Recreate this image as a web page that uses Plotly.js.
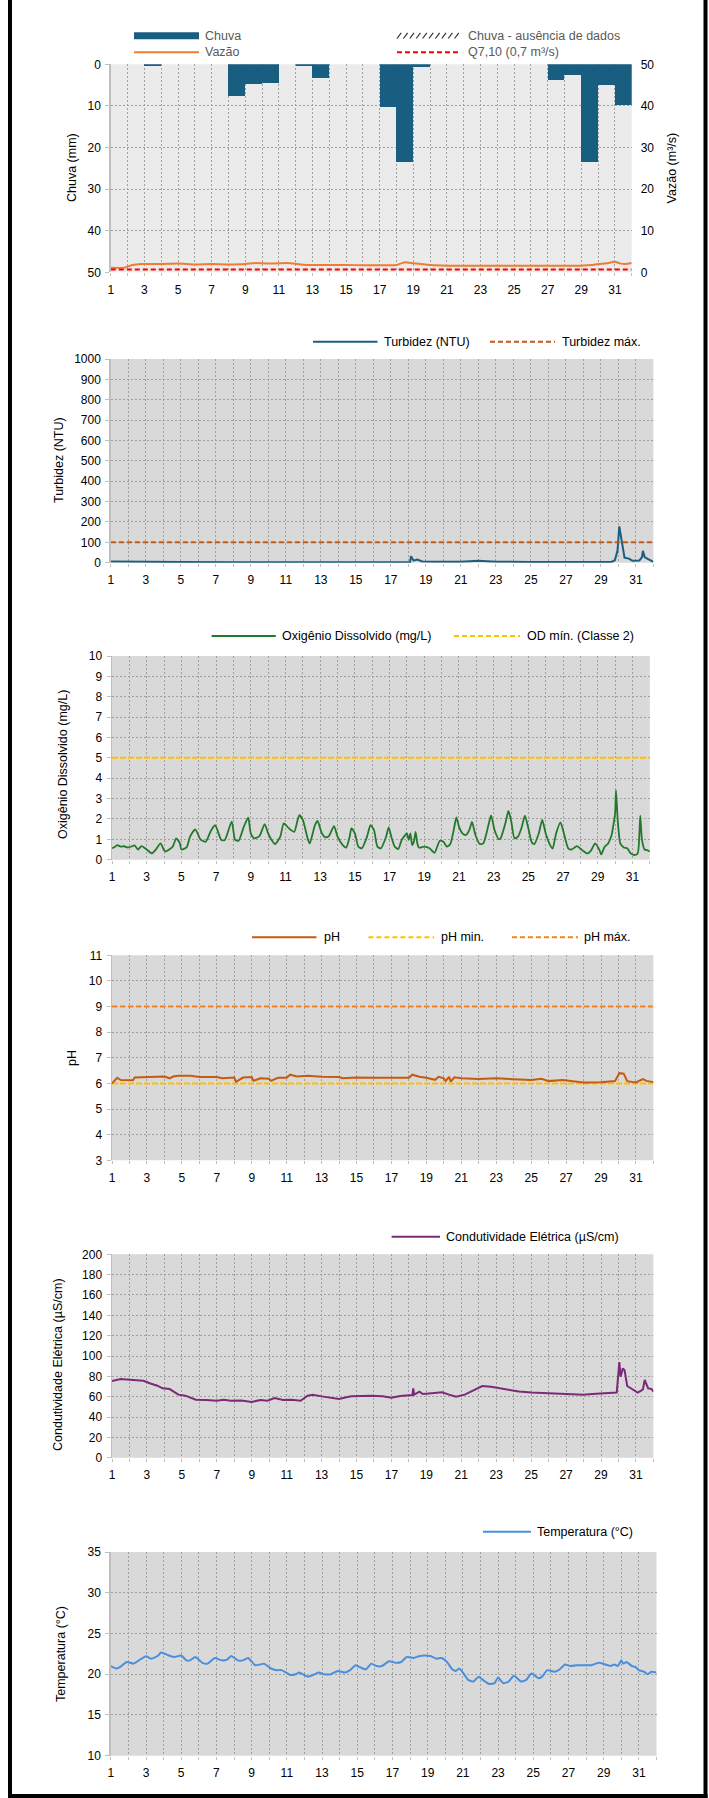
<!DOCTYPE html>
<html>
<head>
<meta charset="utf-8">
<script src="https://cdn.plot.ly/plotly-3.0.1.min.js"></script>
<style>
  html, body { margin: 0; padding: 0; background: #ffffff; }
  #chart { width: 709px; height: 1798px; }
</style>
</head>
<body>
<div id="chart"></div>
<script>
// ---------------- DATA ----------------
const diaInicio = 1;
const diaFim = 32;
const diasTicks = [1,2,3,4,5,6,7,8,9,10,11,12,13,14,15,16,17,18,19,20,21,22,23,24,25,26,27,28,29,30,31,32];
const diasRotulos = ["1","","3","","5","","7","","9","","11","","13","","15","","17","","19","","21","","23","","25","","27","","29","","31",""];

// Chuva (mm) - daily bars, each spanning [dia, dia+1]
const chuvaDia = [3, 8, 9, 10, 12, 13, 17, 18, 19, 27, 28, 29, 30, 31];
const chuvaMm  = [0.3, 7.7, 4.7, 4.5, 0.3, 3.3, 10.2, 23.5, 0.6, 3.8, 2.6, 23.4, 5.0, 9.8];

// Vazão (m³/s)
const vazaoDia = [1, 1.8, 2.3, 2.8, 4, 5, 6, 7, 8, 9, 9.6, 10.5, 11.5, 12.3, 13, 14, 15, 16, 17, 18, 18.5, 19, 20, 21, 22, 23, 24, 25, 26, 27, 28, 29, 29.6, 30, 30.5, 31, 31.3, 31.6, 32];
const vazao    = [1.1, 1.1, 1.75, 2.0, 2.0, 2.1, 1.9, 2.0, 1.9, 2.0, 2.25, 2.1, 2.25, 1.9, 1.75, 1.75, 1.75, 1.7, 1.7, 1.75, 2.4, 2.15, 1.75, 1.6, 1.6, 1.6, 1.55, 1.55, 1.55, 1.6, 1.6, 1.6, 1.75, 2.0, 2.15, 2.55, 2.15, 2.0, 2.25];
const q710 = 0.7;

// Turbidez (NTU)
const turbDia = [1, 3, 5, 8, 13, 15, 17, 18.1, 18.15, 18.3, 18.5, 18.8, 19.5, 21, 22, 22.5, 23, 25, 29, 29.6, 29.8, 29.95, 30.05, 30.2, 30.35, 30.6, 30.8, 31.2, 31.35, 31.4, 31.5, 31.7, 32];
const turbidez = [6, 6, 3, 2, 2, 3, 3, 3, 32, 10, 15, 6, 5, 5, 10, 8, 5, 3, 3, 4, 12, 60, 178, 110, 25, 20, 10, 11, 28, 58, 28, 18, 4];
const turbidezMax = 100;

// Oxigênio Dissolvido (mg/L)
const odDia = [1,1.15,1.3,1.5,1.7,1.9,2.1,2.3,2.5,2.7,3,3.3,3.5,3.8,4,4.1,4.5,4.7,4.9,5,5.3,5.5,5.8,6.1,6.4,6.7,6.95,7.3,7.5,7.9,8.1,8.3,8.6,8.85,9.0,9.2,9.5,9.8,10.0,10.2,10.4,10.7,10.9,11.2,11.5,11.7,11.8,12.0,12.3,12.4,12.7,12.85,13.1,13.3,13.5,13.8,14.0,14.3,14.5,14.7,14.8,15.0,15.2,15.4,15.7,15.9,16.1,16.3,16.5,16.8,16.95,17.1,17.3,17.5,17.7,17.9,18.0,18.1,18.2,18.3,18.4,18.5,18.6,18.7,19.0,19.3,19.5,19.6,19.9,20.1,20.3,20.5,20.7,20.85,21.0,21.2,21.4,21.6,21.75,21.95,22.2,22.4,22.7,22.85,23.05,23.3,23.4,23.7,23.85,24.0,24.2,24.4,24.6,24.8,25.0,25.2,25.35,25.6,25.8,26.0,26.3,26.4,26.6,26.85,27.05,27.3,27.5,27.8,28.1,28.4,28.6,28.85,29.1,29.2,29.4,29.6,29.8,29.9,30.0,30.05,30.15,30.3,30.5,30.7,30.9,31.1,31.3,31.4,31.45,31.55,31.7,31.85,32];
const od    = [0.56,0.62,0.72,0.64,0.66,0.6,0.64,0.7,0.5,0.67,0.5,0.31,0.47,0.8,0.47,0.4,0.64,1.05,0.83,0.5,0.6,1.13,1.49,1.0,0.88,1.42,1.69,0.97,0.97,1.87,0.97,0.93,1.62,2.06,1.29,1.05,1.16,1.75,1.29,0.97,0.77,1.13,1.78,1.54,1.37,1.95,2.19,1.95,0.97,0.8,1.7,1.9,1.29,1.1,1.16,1.65,1.13,0.72,0.59,1.13,1.54,1.29,0.64,0.56,1.13,1.7,1.46,0.64,0.56,1.13,1.59,1.13,0.64,0.52,0.97,1.21,1.29,0.97,1.29,0.72,0.88,1.37,0.8,0.59,0.64,0.56,0.39,0.34,0.93,0.88,0.64,0.77,1.46,2.08,1.62,1.29,1.21,1.46,1.85,1.21,0.77,0.8,1.7,2.18,1.46,1.0,1.05,1.87,2.39,1.95,1.05,1.13,1.54,2.16,1.54,0.85,0.77,1.29,1.95,1.29,0.64,0.54,1.29,1.83,1.29,0.56,0.5,0.67,0.47,0.31,0.43,0.8,0.47,0.26,0.64,0.8,1.21,1.7,2.27,3.42,1.95,0.8,0.6,0.56,0.31,0.23,0.31,1.29,2.16,0.97,0.5,0.47,0.4];
const odMin = 5;

// pH
const phDia = [1,1.3,1.5,2.2,2.3,3,4,4.3,4.5,4.8,5.5,6,7,7.3,8,8.1,8.5,9,9.1,9.5,10,10.1,10.5,11,11.2,11.6,12.2,13,14,14.2,15,16,17,18,18.2,18.6,19,19.5,19.7,20,20.1,20.3,20.4,20.6,21,22,23,24,25,25.6,26,26.8,27.5,28,29,29.8,30.05,30.3,30.5,31,31.4,31.6,32];
const ph    = [6.0,6.22,6.13,6.12,6.23,6.25,6.27,6.2,6.27,6.3,6.3,6.25,6.25,6.2,6.23,6.06,6.23,6.25,6.1,6.2,6.18,6.1,6.22,6.22,6.34,6.27,6.3,6.26,6.25,6.2,6.23,6.22,6.22,6.22,6.34,6.26,6.22,6.14,6.26,6.2,6.09,6.26,6.07,6.24,6.2,6.17,6.2,6.16,6.13,6.18,6.09,6.13,6.07,6.04,6.05,6.09,6.4,6.38,6.09,6.04,6.17,6.1,6.05];
const phMin = 6;
const phMax = 9;

// Condutividade Elétrica (µS/cm)
const ceDia = [1,1.5,2.2,2.8,3.2,3.6,3.9,4.3,4.6,4.8,5.2,5.5,5.8,6.4,7,7.4,7.8,8.4,9,9.5,9.9,10.3,10.8,11.3,11.8,12.2,12.5,13,13.5,14,14.3,14.7,15.3,15.8,16.5,17,17.5,18.2,18.25,18.3,18.6,18.8,19.3,19.9,20.3,20.7,21.2,21.7,22.2,22.7,23.2,23.8,24.3,25,26,27,28,28.5,29.5,29.9,30.05,30.12,30.25,30.35,30.5,30.8,31.1,31.3,31.4,31.5,31.7,31.9,32];
const ce    = [75.4,77.4,76.4,75.7,73,70.8,68.2,67.5,64.3,62,61,59,57,56.7,56,57,56,56.3,54.9,56.7,56,58.7,56.7,57,56,61,62,60.3,59,57.7,59,60.3,60.7,61,60.3,59,60.7,61.6,68.2,62,65,62.6,63.3,64.3,62,60,62,66.6,70.5,69.8,68.2,66.6,65,64,63.3,62.6,62,62.6,63.3,64,94,79.7,87.9,86,70.5,67.2,64,66,67.2,76.4,68.2,67.5,65];

// Temperatura (°C)
const tempDia = [1,1.3,1.6,1.9,2.3,2.6,3,3.3,3.7,3.85,4.3,4.6,5,5.3,5.5,5.8,6.2,6.5,6.9,7.3,7.6,7.85,8.2,8.5,8.8,9.2,9.5,9.7,10.1,10.4,10.7,11.2,11.5,11.7,12.2,12.5,12.8,13.1,13.5,13.9,14.3,14.6,14.9,15.3,15.5,15.8,16.1,16.4,16.8,17.2,17.5,17.8,18.2,18.5,18.8,19.2,19.5,19.8,20.1,20.4,20.6,20.8,21.1,21.3,21.6,21.9,22.2,22.5,22.8,23.0,23.3,23.6,23.9,24.3,24.6,24.9,25.3,25.5,25.8,26.2,26.5,26.8,27.1,27.5,27.9,28.3,28.7,29.1,29.4,29.6,29.8,30.0,30.1,30.3,30.6,30.8,31.0,31.3,31.5,31.7,32];
const temp    = [20.98,20.7,21.0,21.5,21.3,21.7,22.2,21.9,22.3,22.66,22.3,22.1,22.3,21.7,21.7,22.1,21.4,21.3,22.0,21.7,21.8,22.25,21.7,21.7,22.0,21.1,21.2,21.3,20.7,20.5,20.5,19.9,20.0,20.2,19.7,19.9,20.2,20.0,20.0,20.4,20.2,20.5,21.1,20.7,20.6,21.3,21.0,21.0,21.6,21.4,21.5,22.1,22.0,22.2,22.3,22.2,21.9,22.0,21.5,20.6,20.4,20.7,19.9,19.3,19.1,19.7,19.2,18.8,18.9,19.6,18.9,19.1,19.8,19.1,19.3,20.1,19.5,19.7,20.5,20.3,20.6,21.2,21.0,21.1,21.1,21.1,21.4,21.2,21.0,21.2,21.0,21.7,21.3,21.5,21.0,20.9,20.5,20.3,20.0,20.3,20.2];

// ---------------- LAYOUT HELPERS ----------------
const W = 709, H = 1798;
const fx = v => v / W;
const fy = v => 1 - v / H;
const FONT = "Liberation Sans, Arial, Helvetica, sans-serif";
const GRID = '#a0a0a0';
const AXC = '#bfbfbf';

// pixel boxes of the six plot areas [left, right, top, bottom]
const boxes = [
  [110.8, 631.7, 64.3, 272.3],
  [110.8, 653.4, 359, 562.7],
  [112, 649.8, 656, 859.7],
  [112, 653.4, 955.3, 1160.3],
  [112, 653.4, 1254.3, 1457.7],
  [110.8, 656.5, 1552, 1755.7]
];

function xAxis(i, anchor) {
  const b = boxes[i];
  return {
    domain: [fx(b[0]), fx(b[1])], anchor: anchor,
    range: [diaInicio, diaFim], tickmode: 'array', tickvals: diasTicks, ticktext: diasRotulos,
    showgrid: true, gridcolor: GRID, griddash: '2px,2px', gridwidth: 1,
    zeroline: false, showline: false, ticks: 'outside', ticklen: 3, tickcolor: AXC,
    tickfont: {size: 12, color: '#000', family: FONT}, ticklabelstandoff: 3, fixedrange: true
  };
}
function yAxis(i, anchor, range, dtick, extra) {
  const b = boxes[i];
  return Object.assign({
    domain: [fy(b[3]), fy(b[2])], anchor: anchor,
    range: range, tickmode: 'linear', tick0: Math.min(range[0], range[1]), dtick: dtick,
    showgrid: true, gridcolor: GRID, griddash: '2px,2px', gridwidth: 1,
    zeroline: false, showline: true, linecolor: AXC, linewidth: 1.5,
    ticks: 'outside', ticklen: 4, tickcolor: AXC,
    tickfont: {size: 12, color: '#000', family: FONT}, ticklabelstandoff: 2, fixedrange: true
  }, extra || {});
}

// ---------------- TRACES ----------------
const traces = [
  {type: 'bar', name: 'Chuva', x: chuvaDia, y: chuvaMm, offset: 0, width: 1,
   marker: {color: '#185e80', line: {width: 0}}, xaxis: 'x', yaxis: 'y', hoverinfo: 'x+y'},
  {type: 'scatter', mode: 'lines', name: 'Vazão', x: vazaoDia, y: vazao,
   line: {color: '#ed7d31', width: 2, shape: 'spline', smoothing: 0.5}, xaxis: 'x', yaxis: 'y2'},
  {type: 'scatter', mode: 'lines', name: 'Q7,10 (0,7 m³/s)', x: [diaInicio, diaFim], y: [q710, q710],
   line: {color: '#ff0000', width: 2, dash: '5px,3px'}, xaxis: 'x', yaxis: 'y2'},

  {type: 'scatter', mode: 'lines', name: 'Turbidez (NTU)', x: turbDia, y: turbidez,
   line: {color: '#1a5e80', width: 2}, xaxis: 'x2', yaxis: 'y3'},
  {type: 'scatter', mode: 'lines', name: 'Turbidez máx.', x: [diaInicio, diaFim], y: [turbidezMax, turbidezMax],
   line: {color: '#c55a11', width: 2, dash: '5px,3px'}, xaxis: 'x2', yaxis: 'y3'},

  {type: 'scatter', mode: 'lines', name: 'OD mín. (Classe 2)', x: [diaInicio, diaFim], y: [odMin, odMin],
   line: {color: '#ffc000', width: 2, dash: '5px,3px'}, xaxis: 'x3', yaxis: 'y4'},
  {type: 'scatter', mode: 'lines', name: 'Oxigênio Dissolvido (mg/L)', x: odDia, y: od,
   line: {color: '#23792b', width: 1.8, shape: 'spline', smoothing: 0.6}, xaxis: 'x3', yaxis: 'y4'},

  {type: 'scatter', mode: 'lines', name: 'pH min.', x: [diaInicio, diaFim], y: [phMin, phMin],
   line: {color: '#ffc000', width: 2, dash: '5px,3px'}, xaxis: 'x4', yaxis: 'y5'},
  {type: 'scatter', mode: 'lines', name: 'pH máx.', x: [diaInicio, diaFim], y: [phMax, phMax],
   line: {color: '#f5841f', width: 2, dash: '5px,3px'}, xaxis: 'x4', yaxis: 'y5'},
  {type: 'scatter', mode: 'lines', name: 'pH', x: phDia, y: ph,
   line: {color: '#c55a11', width: 2}, xaxis: 'x4', yaxis: 'y5'},

  {type: 'scatter', mode: 'lines', name: 'Condutividade Elétrica (µS/cm)', x: ceDia, y: ce,
   line: {color: '#7b2a78', width: 2}, xaxis: 'x5', yaxis: 'y6'},

  {type: 'scatter', mode: 'lines', name: 'Temperatura (°C)', x: tempDia, y: temp,
   line: {color: '#4a8fdc', width: 2, shape: 'spline', smoothing: 0.5}, xaxis: 'x6', yaxis: 'y7'}
];

// ---------------- SHAPES & ANNOTATIONS ----------------
const shapes = [];
const annotations = [];
const bgs = ['#ebebeb', '#d9d9d9', '#d9d9d9', '#d9d9d9', '#d9d9d9', '#d9d9d9'];
const xrefs = ['x', 'x2', 'x3', 'x4', 'x5', 'x6'];
const yrefs = ['y', 'y3', 'y4', 'y5', 'y6', 'y7'];
for (let i = 0; i < 6; i++) {
  shapes.push({type: 'rect', xref: xrefs[i] + ' domain', yref: yrefs[i] + ' domain', x0: 0, x1: 1, y0: 0, y1: 1,
               fillcolor: bgs[i], line: {width: 0}, layer: 'below'});
}
// page frame
shapes.push({type: 'line', xref: 'paper', yref: 'paper', x0: fx(10), x1: fx(10), y0: 0, y1: 1, line: {color: '#000', width: 4}});
shapes.push({type: 'line', xref: 'paper', yref: 'paper', x0: fx(705.5), x1: fx(705.5), y0: 0, y1: 1, line: {color: '#000', width: 4}});
shapes.push({type: 'line', xref: 'paper', yref: 'paper', x0: fx(8), x1: fx(707.5), y0: fy(1796), y1: fy(1796), line: {color: '#000', width: 4}});

function legLine(x0, x1, y, color, width, dash) {
  shapes.push({type: 'line', xref: 'paper', yref: 'paper', x0: fx(x0), x1: fx(x1), y0: fy(y), y1: fy(y),
               line: {color: color, width: width, dash: dash || 'solid'}});
}
function legText(x, y, txt, color) {
  annotations.push({xref: 'paper', yref: 'paper', x: fx(x), y: fy(y), xanchor: 'left', yanchor: 'middle',
                    text: txt, showarrow: false, font: {family: FONT, size: 12.5, color: color || '#000'}});
}
function yTitle(x, y, txt) {
  annotations.push({xref: 'paper', yref: 'paper', x: fx(x), y: fy(y), xanchor: 'center', yanchor: 'middle',
                    text: txt, textangle: -90, showarrow: false, font: {family: FONT, size: 12.5, color: '#000'}});
}

// Chart 1 legend
legLine(134, 199, 35.7, '#185e80', 7);
legText(203, 35.7, 'Chuva', '#595959');
legLine(134, 199, 52.3, '#ed7d31', 2);
legText(203, 52.3, 'Vazão', '#595959');
for (let k = 0; k < 10; k++) {
  const x0 = 397 + k * 6.4;
  shapes.push({type: 'line', xref: 'paper', yref: 'paper', x0: fx(x0), x1: fx(x0 + 4.2), y0: fy(38.5), y1: fy(32.8),
               line: {color: '#333333', width: 1.2}});
}
legText(465.5, 35.7, 'Chuva - ausência de dados', '#595959');
legLine(397, 461, 52.3, '#ff0000', 2, '5px,3px');
legText(465.5, 52.3, 'Q7,10 (0,7 m³/s)', '#595959');
yTitle(72, 168, 'Chuva (mm)');
yTitle(672.4, 168, 'Vazão (m³/s)');

// Chart 2 legend
legLine(313, 377.5, 341.7, '#1a5e80', 2);
legText(381.5, 341.7, 'Turbidez (NTU)');
legLine(490, 555, 341.7, '#c55a11', 2, '5px,3px');
legText(559.5, 341.7, 'Turbidez máx.');
yTitle(59, 460, 'Turbidez (NTU)');

// Chart 3 legend
legLine(211.6, 275.8, 636, '#23792b', 2);
legText(280, 636, 'Oxigênio Dissolvido (mg/L)');
legLine(454, 520, 636, '#ffc000', 2, '5px,3px');
legText(524.5, 636, 'OD mín. (Classe 2)');
yTitle(63, 765, 'Oxigênio Dissolvido (mg/L)');

// Chart 4 legend
legLine(252, 316.5, 937.3, '#c55a11', 2);
legText(321.5, 937.3, 'pH');
legLine(368.5, 434, 937.3, '#ffc000', 2, '5px,3px');
legText(438.5, 937.3, 'pH min.');
legLine(512, 578, 937.3, '#f5841f', 2, '5px,3px');
legText(581.5, 937.3, 'pH máx.');
yTitle(72, 1058, 'pH');

// Chart 5 legend
legLine(391.6, 440, 1236.7, '#7b2a78', 2);
legText(443.5, 1236.7, 'Condutividade Elétrica (µS/cm)');
yTitle(58, 1365, 'Condutividade Elétrica (µS/cm)');

// Chart 6 legend
legLine(483, 531, 1531.7, '#4a8fdc', 2);
legText(534.5, 1531.7, 'Temperatura (°C)');
yTitle(61, 1654, 'Temperatura (°C)');

// ---------------- LAYOUT ----------------
const layout = {
  width: W, height: H,
  margin: {l: 0, r: 0, t: 0, b: 0, pad: 0},
  paper_bgcolor: '#ffffff', plot_bgcolor: 'rgba(0,0,0,0)',
  showlegend: false,
  font: {family: FONT, size: 12, color: '#000'},
  bargap: 0,
  xaxis: xAxis(0, 'y'),
  yaxis: yAxis(0, 'x', [50, 0], 10),
  yaxis2: yAxis(0, 'x', [0, 50], 10, {overlaying: 'y', side: 'right', showgrid: false, showline: false, ticks: '', ticklabelstandoff: 8}),
  xaxis2: xAxis(1, 'y3'),
  yaxis3: yAxis(1, 'x2', [0, 1000], 100),
  xaxis3: xAxis(2, 'y4'),
  yaxis4: yAxis(2, 'x3', [0, 10], 1),
  xaxis4: xAxis(3, 'y5'),
  yaxis5: yAxis(3, 'x4', [3, 11], 1),
  xaxis5: xAxis(4, 'y6'),
  yaxis6: yAxis(4, 'x5', [0, 200], 20),
  xaxis6: xAxis(5, 'y7'),
  yaxis7: yAxis(5, 'x6', [10, 35], 5),
  shapes: shapes,
  annotations: annotations
};

Plotly.newPlot('chart', traces, layout, {displayModeBar: false, staticPlot: true});
</script>
</body>
</html>
